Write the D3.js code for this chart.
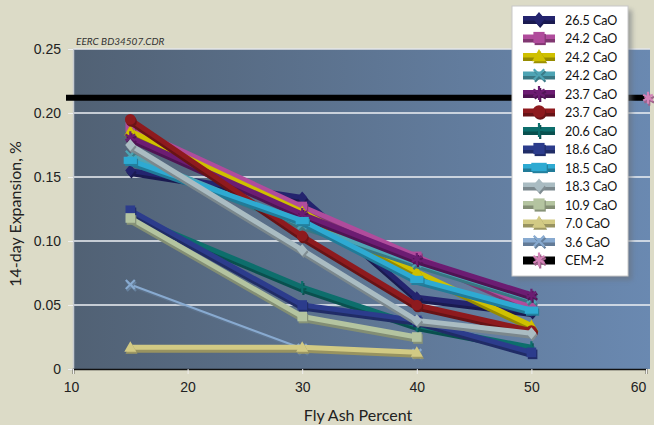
<!DOCTYPE html>
<html>
<head>
<meta charset="utf-8">
<script src="https://cdn.jsdelivr.net/npm/d3@7"></script>
<style>
  body { margin: 0; background: #dcdbc7; }
  svg { display: block; font-family: Lato, "Open Sans", sans-serif; }
</style>
</head>
<body>
<svg id="chart" width="654" height="425"></svg>
<script>
// Fly ash replacement levels (%)
const flyAsh = [15, 30, 40, 50];

// 14-day expansion (%) for each fly ash, by CaO content
const cao265 = [0.155, 0.134, 0.056, 0.045];
const cao242a = [0.189, 0.127, 0.088, 0.048];
const cao242b = [0.186, 0.123, 0.076, 0.034];
const cao242c = [0.167, 0.113, 0.083, 0.055];
const cao237a = [0.181, 0.121, 0.086, 0.058];
const cao237b = [0.195, 0.104, 0.050, 0.030];
const cao206 = [0.120, 0.064, 0.034, 0.017];
const cao186 = [0.124, 0.050, 0.038, 0.013];
const cao185 = [0.163, 0.116, 0.070, 0.046];
const cao183 = [0.175, 0.093, 0.038, 0.028];
const cao109 = [0.118, 0.041, 0.025, null];
const cao070 = [0.017, 0.017, 0.013, null];
const cao036 = [0.066, 0.016, 0.012, null];

// Control cement
const cemX = [10, 60];
const cemY = [0.212, 0.212];

const seriesNames = ["26.5 CaO", "24.2 CaO", "24.2 CaO", "24.2 CaO", "23.7 CaO", "23.7 CaO",
  "20.6 CaO", "18.6 CaO", "18.5 CaO", "18.3 CaO", "10.9 CaO", "7.0 CaO", "3.6 CaO"];
const seriesValues = [cao265, cao242a, cao242b, cao242c, cao237a, cao237b,
  cao206, cao186, cao185, cao183, cao109, cao070, cao036];
const seriesColors = ["#24246e", "#b04c9c", "#cfc000", "#4ea4b4", "#6c1c72", "#8e1a1e",
  "#0d6e6c", "#2c3c8c", "#2eaad2", "#aabcc2", "#b4c4a0", "#d2ca84", "#88aad0"];
const seriesMarkers = ["diamond", "square", "triangle", "x", "asterisk", "circle",
  "vline", "square", "rect", "diamond", "square", "triangle", "x"];
const seriesWidths = [5, 5, 5, 5, 5, 5, 5, 5, 5, 5, 5, 5, 2];
// Stacking order: the thin 3.6 CaO line sits underneath the others
const drawOrder = [12, 0, 1, 2, 3, 4, 5, 6, 7, 8, 9, 10, 11];

const xTicks = [10, 20, 30, 40, 50, 60];
const yTicks = [0, 0.05, 0.10, 0.15, 0.20, 0.25];
const yTickLabels = ["0", "0.05", "0.10", "0.15", "0.20", "0.25"];

const svg = d3.select("#chart");
const plotLeft = 73, plotRight = 646, plotTop = 49, plotBottom = 369, plotEdge = 650;

const x = d3.scaleLinear().domain([10, 60]).range([plotLeft, plotRight]);
const y = d3.scaleLinear().domain([0, 0.25]).range([plotBottom, plotTop]);

const defs = svg.append("defs");
const grad = defs.append("linearGradient").attr("id", "plotBg")
  .attr("x1", 0).attr("x2", 1).attr("y1", 0).attr("y2", 0);
grad.append("stop").attr("offset", 0).attr("stop-color", "#516174");
grad.append("stop").attr("offset", 1).attr("stop-color", "#6a89b1");
defs.append("filter").attr("id", "soft").attr("x", -0.2).attr("y", -0.2)
  .attr("width", 1.4).attr("height", 1.4)
  .append("feGaussianBlur").attr("stdDeviation", 2.5);

// Plot background
svg.append("rect").attr("x", plotLeft).attr("y", plotTop)
  .attr("width", plotEdge - plotLeft).attr("height", plotBottom - plotTop)
  .attr("fill", "url(#plotBg)");
svg.append("line").attr("x1", plotLeft).attr("x2", plotEdge).attr("y1", plotTop).attr("y2", plotTop)
  .attr("stroke", "#e4e6e8").attr("stroke-width", 1.5);

// Horizontal grid lines
svg.append("g").selectAll("line").data(yTicks.filter(v => v > 0 && v < 0.25)).join("line")
  .attr("x1", plotLeft).attr("x2", plotEdge)
  .attr("y1", d => y(d)).attr("y2", d => y(d))
  .attr("stroke", "#eef0f4").attr("stroke-width", 1.6);

// Y axis
const yAxis = svg.append("g").attr("transform", `translate(${plotLeft},0)`)
  .call(d3.axisLeft(y).tickValues(yTicks).tickFormat((d, i) => yTickLabels[i])
    .tickSize(5).tickPadding(7));
yAxis.select(".domain").attr("stroke", "#c8ccd0").attr("stroke-width", 1.5);
yAxis.selectAll(".tick line").attr("stroke", "#f0f0f0");
yAxis.selectAll(".tick text").attr("fill", "#222").attr("font-size", 14);

// X axis
const xAxis = svg.append("g").attr("transform", `translate(0,${plotBottom})`)
  .call(d3.axisBottom(x).tickValues(xTicks).tickFormat(d3.format("d"))
    .tickSize(5).tickPadding(8));
xAxis.select(".domain").attr("stroke", "#111").attr("stroke-width", 1.6);
xAxis.selectAll(".tick line").attr("stroke", "#f0f0f0");
xAxis.selectAll(".tick text").attr("fill", "#222").attr("font-size", 14)
  .attr("dx", d => d === 60 ? -8 : d === 10 ? -2 : 0);

// Axis titles
svg.append("text").attr("transform", "translate(21,214) rotate(-90)")
  .attr("text-anchor", "middle").attr("font-size", 16).attr("fill", "#222")
  .text("14-day Expansion, %");
svg.append("text").attr("x", 358).attr("y", 421)
  .attr("text-anchor", "middle").attr("font-size", 16).attr("fill", "#222")
  .text("Fly Ash Percent");
svg.append("text").attr("x", 76).attr("y", 45)
  .attr("font-size", 10).attr("font-style", "italic").attr("fill", "#333")
  .text("EERC BD34507.CDR");

// Marker shapes
function markerPath(shape, r) {
  switch (shape) {
    case "diamond": return `M0,${-r}L${r * 0.85},0L0,${r}L${-r * 0.85},0Z`;
    case "square": return `M${-r * 0.8},${-r * 0.8}h${r * 1.6}v${r * 1.6}h${-r * 1.6}Z`;
    case "rect": return `M${-r * 1.1},${-r * 0.6}h${r * 2.2}v${r * 1.2}h${-r * 2.2}Z`;
    case "triangle": return `M0,${-r}L${r},${r * 0.75}L${-r},${r * 0.75}Z`;
    case "circle": return d3.symbol(d3.symbolCircle, Math.PI * r * r * 0.8)();
    case "x": return `M${-r * 0.75},${-r * 0.75}L${r * 0.75},${r * 0.75}M${r * 0.75},${-r * 0.75}L${-r * 0.75},${r * 0.75}`;
    case "asterisk": return `M0,${-r}V${r}M${-r * 0.8},${-r * 0.5}L${r * 0.8},${r * 0.5}M${r * 0.8},${-r * 0.5}L${-r * 0.8},${r * 0.5}`;
    case "vline": return `M0,${-r}V${r}M-3,0H3`;
  }
}
const strokeOnly = new Set(["x", "asterisk", "vline"]);

function drawMarker(g, shape, color, cx, cy, r) {
  const dark = d3.color(color).darker(0.8).formatHex();
  const p = markerPath(shape, r);
  [[dark, 1.2, 2], [color, 0, 0]].forEach(([c, dx, dy]) => {
    const m = g.append("path").attr("d", p)
      .attr("transform", `translate(${cx + dx},${cy + dy})`);
    if (strokeOnly.has(shape)) m.attr("fill", "none").attr("stroke", c).attr("stroke-width", 2.2);
    else m.attr("fill", c);
  });
}

// Control cement reference line
const cemLine = d3.line().x(d => x(d[0])).y(d => y(d[1]));
const cemPts = d3.zip(cemX, cemY);
svg.append("path").attr("d", cemLine(cemPts)).attr("fill", "none")
  .attr("stroke", "#26313e").attr("stroke-width", 7).attr("opacity", 0.6)
  .attr("transform", "translate(0,5)").attr("filter", "url(#soft)");
svg.append("path").attr("d", cemLine(cemPts)).attr("fill", "none")
  .attr("stroke", "#000").attr("stroke-width", 6).attr("stroke-linecap", "square")
  .attr("transform", "translate(-4,0)");

// Series lines and markers
const line = d3.line().defined(d => d[1] != null)
  .x(d => x(d[0])).y(d => y(d[1]));

const gSeries = svg.append("g");
drawOrder.forEach(i => {
  const vals = seriesValues[i];
  const pts = d3.zip(flyAsh, vals).filter(d => d[1] != null);
  const color = seriesColors[i];
  const dark = d3.color(color).darker(0.9).formatHex();
  const g = gSeries.append("g");
  const w = seriesWidths[i];
  g.append("path").attr("d", line(pts)).attr("fill", "none")
    .attr("stroke", dark).attr("stroke-width", w).attr("stroke-linejoin", "round")
    .attr("transform", `translate(0,${w > 3 ? 3 : 1.5})`).attr("opacity", w > 3 ? 1 : 0.5);
  g.append("path").attr("d", line(pts)).attr("fill", "none")
    .attr("stroke", color).attr("stroke-width", w).attr("stroke-linejoin", "round");
  pts.forEach(p => drawMarker(g, seriesMarkers[i], color, x(p[0]), y(p[1]), 6));
});

// CEM-2 marker
drawMarker(svg.append("g"), "asterisk", "#d483b8", x(cemX[1]) + 2, y(cemY[1]), 6);

// Legend
const legendNames = seriesNames.concat(["CEM-2"]);
const legendColors = seriesColors.concat(["#000000"]);
const legendMarkers = seriesMarkers.concat(["asterisk"]);
const legend = svg.append("g");
legend.append("rect").attr("x", 516).attr("y", 10).attr("width", 116).attr("height", 270)
  .attr("fill", "#6b6f78").attr("opacity", 0.55).attr("filter", "url(#soft)");
legend.append("rect").attr("x", 512).attr("y", 6).attr("width", 116).attr("height", 270)
  .attr("fill", "#fff").attr("stroke", "#c8c8c8").attr("stroke-width", 1);
legendNames.forEach((name, i) => {
  const cy = 20 + i * 18.5;
  const color = legendColors[i];
  const dark = i === 13 ? "#000" : d3.color(color).darker(0.9).formatHex();
  legend.append("rect").attr("x", 523).attr("y", cy).attr("width", 32).attr("height", 4).attr("fill", dark);
  legend.append("rect").attr("x", 523).attr("y", cy - 4).attr("width", 32).attr("height", 4.5).attr("fill", color);
  drawMarker(legend, legendMarkers[i], i === 13 ? "#d483b8" : color, 539, cy - 1, 7);
  legend.append("text").attr("x", 565).attr("y", cy + 4.5)
    .attr("font-size", 12.5).attr("fill", "#111").text(name);
});
</script>
</body>
</html>
